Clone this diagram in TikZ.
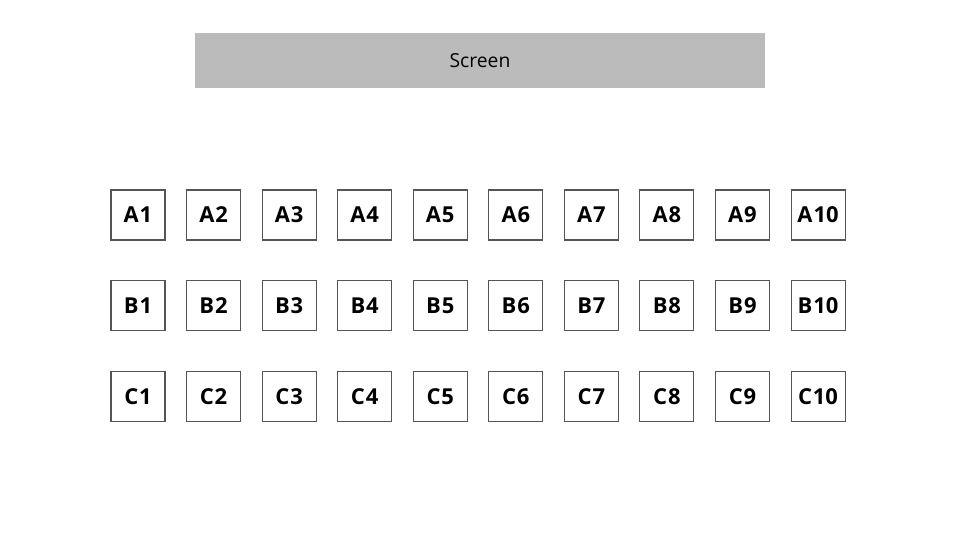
\documentclass[tikz,border=0pt]{standalone}
\usepackage{fontspec}
\setmainfont{Open Sans}
\usepackage{tikz}

\definecolor{screengray}{HTML}{BBBBBB}
\definecolor{seatline}{HTML}{555555}

\begin{document}
\begin{tikzpicture}[x=0.02cm,y=-0.02cm,
  seat/.style={draw=seatline,line width=0.6pt,minimum width=1.08cm,minimum height=1cm,inner sep=0pt,font=\fontsize{12.5}{14}\selectfont\bfseries},
  screenbox/.style={fill=screengray,minimum width=11.4cm,minimum height=1.1cm,inner sep=0pt,font=\fontsize{11}{13}\selectfont}]
\useasboundingbox (0,0) rectangle (960,540);
\node[screenbox] (screen) at (480,60.5) {Screen};
% seat rows
\foreach \row/\lbl/\y in {a/A/215,b/B/305.5,c/C/396.5}
  \foreach \i in {1,...,10}
    \node[seat] (\row\i) at ({138+75.56*(\i-1)},\y) {\lbl\kern0.5pt\i};
\end{tikzpicture}
\end{document}
